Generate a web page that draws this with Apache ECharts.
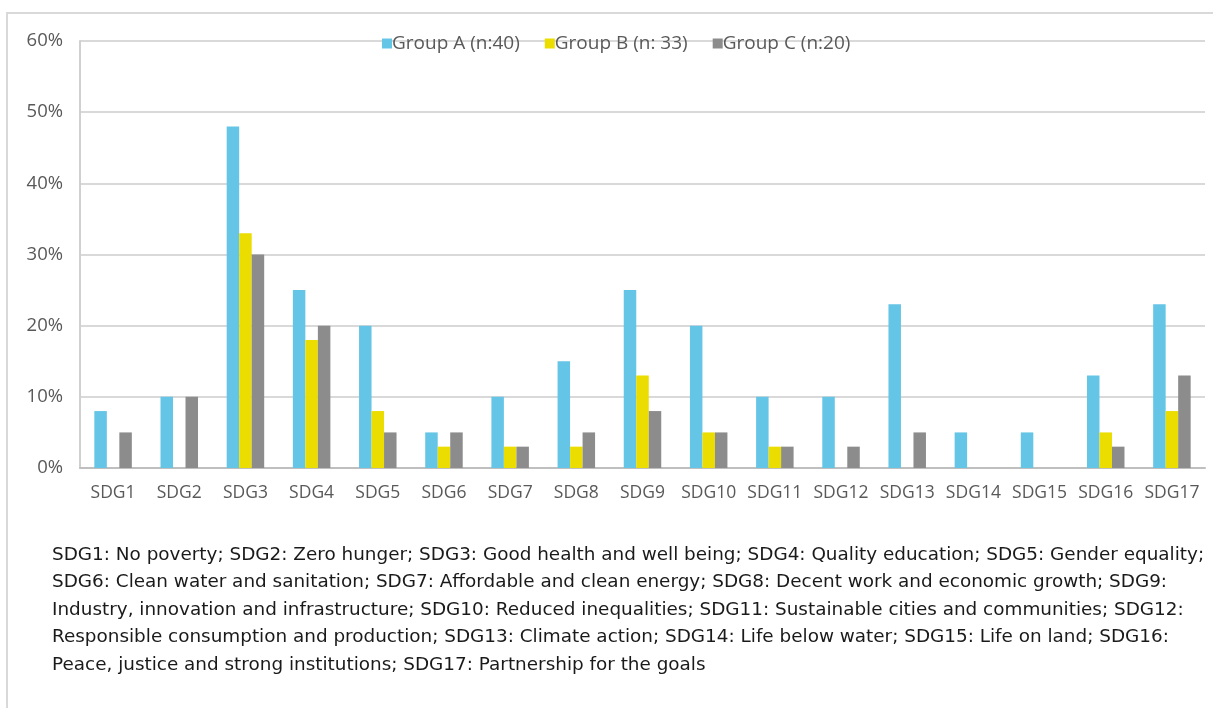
<!DOCTYPE html>
<html>
<head>
<meta charset="utf-8">
<script src="https://cdn.jsdelivr.net/npm/echarts@6/dist/echarts.min.js"></script>
<style>
  html, body { margin: 0; padding: 0; background: #fff; }
  #main { width: 1213px; height: 708px; }
</style>
</head>
<body>
<div id="main"></div>
<script>
// categories and values (percent)
var categories = ["SDG1", "SDG2", "SDG3", "SDG4", "SDG5", "SDG6", "SDG7", "SDG8", "SDG9",
  "SDG10", "SDG11", "SDG12", "SDG13", "SDG14", "SDG15", "SDG16", "SDG17"];
var groupA = [8, 10, 48, 25, 20, 5, 10, 15, 25, 20, 10, 10, 23, 5, 5, 13, 23];
var groupB = [0, 0, 33, 18, 8, 3, 3, 3, 13, 5, 3, 0, 0, 0, 0, 5, 8];
var groupC = [5, 10, 30, 20, 5, 5, 3, 5, 8, 5, 3, 3, 5, 0, 0, 3, 13];
var seriesNames = ["Group A (n:40)", "Group B (n: 33)", "Group C (n:20)"];

var noteLines = [
  "SDG1: No poverty; SDG2: Zero hunger; SDG3: Good health and well being; SDG4: Quality education; SDG5: Gender equality;",
  "SDG6: Clean water and sanitation; SDG7: Affordable and clean energy; SDG8: Decent work and economic growth; SDG9:",
  "Industry, innovation and infrastructure; SDG10: Reduced inequalities; SDG11: Sustainable cities and communities; SDG12:",
  "Responsible consumption and production; SDG13: Climate action; SDG14: Life below water; SDG15: Life on land; SDG16:",
  "Peace, justice and strong institutions; SDG17: Partnership for the goals"
];

var font = "'Open Sans', sans-serif";
var myChart = echarts.init(document.getElementById("main"));

function bar(name, data, color) {
  return {
    name: name,
    type: "bar",
    data: data,
    barWidth: 12.5,
    barGap: "0%",
    itemStyle: { color: color },
    emphasis: { disabled: true }
  };
}

myChart.setOption({
  animation: false,
  textStyle: { fontFamily: font },
  legend: {
    top: 29,
    left: 377,
    itemWidth: 10,
    itemHeight: 10,
    itemGap: 25,
    icon: "rect",
    textStyle: { fontSize: 19, color: "#595959", fontFamily: font, padding: [0, 0, 0, -5] },
    data: seriesNames
  },
  grid: { left: 80, right: 8, top: 41, bottom: 240 },
  xAxis: {
    type: "category",
    data: categories,
    axisLine: { lineStyle: { color: "#bfbfbf", width: 2 } },
    axisTick: { show: false },
    axisLabel: { fontSize: 17.5, color: "#595959", margin: 16, interval: 0 }
  },
  yAxis: {
    type: "value",
    min: 0,
    max: 60,
    interval: 10,
    axisLine: { show: true, lineStyle: { color: "#d0d0d0", width: 2 } },
    axisTick: { show: false },
    splitLine: { lineStyle: { color: "#d9d9d9", width: 2 } },
    axisLabel: { fontSize: 18.5, color: "#595959", margin: 17, formatter: "{value}%" }
  },
  graphic: [
    {
      type: "rect",
      shape: { x: 7, y: 13, width: 1220, height: 720 },
      style: { fill: null, stroke: "#d9d9d9", lineWidth: 2 },
      silent: true
    },
    {
      type: "text",
      left: 52,
      top: 541,
      style: {
        text: noteLines.join("\n"),
        font: "18.4px 'DejaVu Sans', sans-serif",
        fill: "#1a1a1a",
        lineHeight: 27.5
      }
    }
  ],
  series: [
    bar(seriesNames[0], groupA, "#65c5e6"),
    bar(seriesNames[1], groupB, "#ebdd00"),
    bar(seriesNames[2], groupC, "#8c8c8c")
  ]
});
</script>
</body>
</html>
